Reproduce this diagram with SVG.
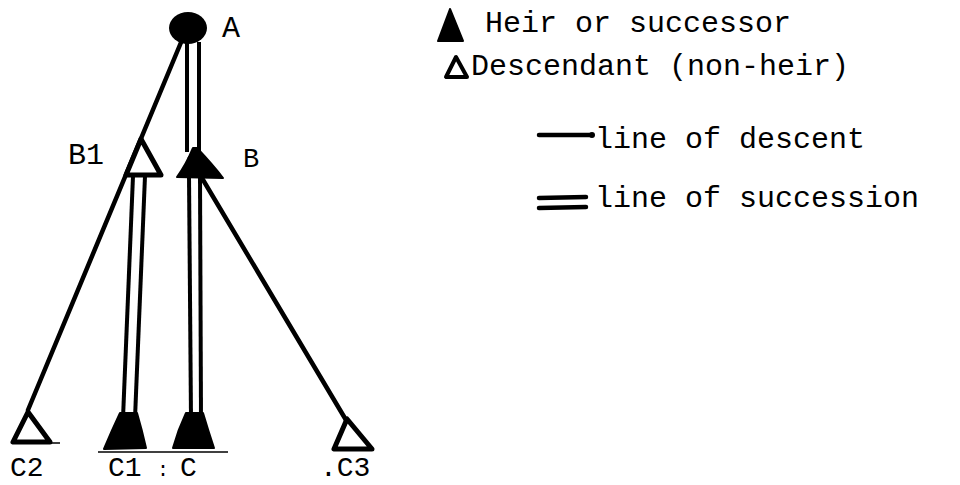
<svg xmlns="http://www.w3.org/2000/svg" width="960" height="485" viewBox="0 0 960 485">
<style>
.t{font-family:"Liberation Mono","DejaVu Sans Mono",monospace;font-size:30px;fill:#000}
.b{font-size:28px}
.ln{stroke:#000;stroke-width:4.5;fill:none;stroke-linecap:round}
.dl{stroke:#000;stroke-width:4;fill:none;stroke-linecap:butt}
.open{fill:#fff;stroke:#000;stroke-width:5;stroke-linejoin:round}
.fill{fill:#000;stroke:#000;stroke-width:2;stroke-linejoin:round}
</style>
<rect width="960" height="485" fill="#fff"/>
<g id="connectors">
  <line class="ln" x1="182" y1="40" x2="28" y2="410"/>
  <line class="dl" x1="187" y1="42" x2="187" y2="152"/>
  <line class="dl" x1="199" y1="42" x2="199" y2="152"/>
  <line class="dl" x1="133" y1="176" x2="123" y2="418"/>
  <line class="dl" x1="145" y1="176" x2="135" y2="418"/>
  <line class="dl" x1="189" y1="176" x2="191" y2="418"/>
  <line class="dl" x1="200" y1="176" x2="201" y2="418"/>
  <line class="ln" x1="190" y1="158" x2="346" y2="420"/>
  <line stroke="#000" stroke-width="1.5" x1="98" y1="452" x2="228" y2="452"/>
</g>
<g id="node-A">
  <ellipse cx="188" cy="28" rx="19" ry="16" fill="#000"/>
  <text class="t" x="222" y="37">A</text>
</g>
<g id="node-B1">
  <path class="open" d="M141,139 L126,175 L161,175 Z"/>
  <text class="t" x="68" y="164">B1</text>
</g>
<g id="node-B">
  <path class="fill" d="M193,148 Q186,165 177,177 L223,178 Q213,165 197,148 Z"/>
  <text class="t" x="243" y="167" style="font-size:27px">B</text>
</g>
<g id="node-C2">
  <path class="open" d="M28,412 L13,442 L50,442 Z"/>
  <line stroke="#000" stroke-width="1.5" x1="50" y1="443" x2="60" y2="443"/>
  <text class="t b" x="10" y="476">C2</text>
</g>
<g id="node-C1">
  <path class="fill" d="M120,413 L137,413 Q142,430 146,448 L104,449 Q112,430 120,413 Z"/>
  <text class="t b" x="108" y="476">C1</text>
</g>
<text class="t" x="157" y="476" style="font-size:20px">:</text>
<g id="node-C">
  <path class="fill" d="M186,413 L203,413 Q208,430 214,448 L173,448 Q178,430 186,413 Z"/>
  <text class="t b" x="180" y="476">C</text>
</g>
<g id="node-C3">
  <path class="open" d="M347,419 L334,449 L372,449 Z"/>
  <text class="t b" x="320" y="476">.C3</text>
</g>
<g id="legend">
  <path class="fill" d="M450,9 L438,41 L463,41 Z"/>
  <text class="t" x="485" y="32">Heir or successor</text>
  <path d="M456,57 L446,77 L467,77 Z" fill="#fff" stroke="#000" stroke-width="4" stroke-linejoin="round"/>
  <text class="t" x="471" y="75">Descendant (non-heir)</text>
  <line class="ln" x1="539" y1="135" x2="591" y2="135"/>
  <circle cx="592" cy="135" r="3" fill="#000"/>
  <text class="t" x="595" y="148">line of descent</text>
  <line class="ln" x1="539" y1="198" x2="586" y2="197"/>
  <line class="ln" x1="539" y1="208" x2="586" y2="207"/>
  <text class="t" x="595" y="207">line of succession</text>
</g>
</svg>
